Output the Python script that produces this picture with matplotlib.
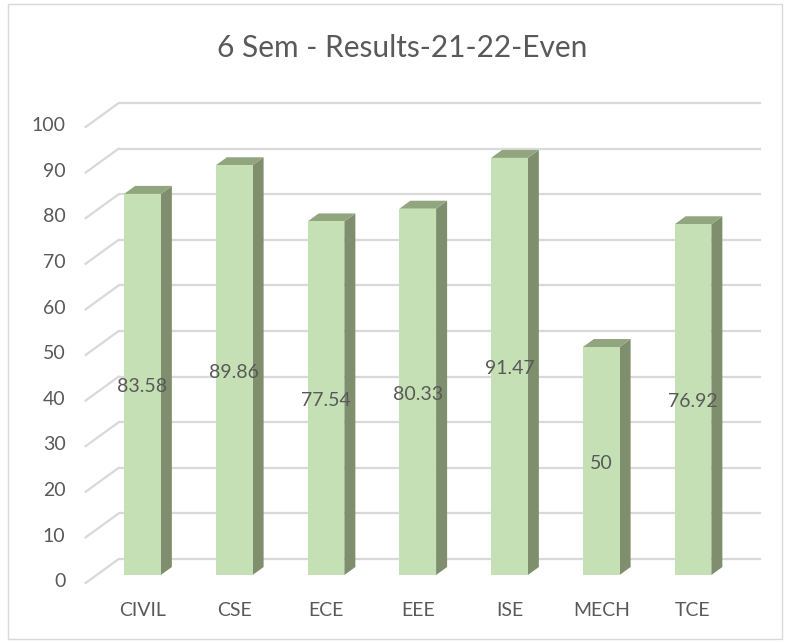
import matplotlib.pyplot as plt
from matplotlib.patches import Rectangle, Polygon

# data
categories = ['CIVIL', 'CSE', 'ECE', 'EEE', 'ISE', 'MECH', 'TCE']
results = [83.58, 89.86, 77.54, 80.33, 91.47, 50, 76.92]
label_text = ['83.58', '89.86', '77.54', '80.33', '91.47', '50', '76.92']
y_ticks = [0, 10, 20, 30, 40, 50, 60, 70, 80, 90, 100]
title = '6 Sem - Results-21-22-Even'

# style
front_col = '#C5E0B4'
side_col = '#7F8F6E'
top_col = '#91A57F'
grid_col = '#D9D9D9'
text_col = '#595959'
plt.rcParams['font.family'] = ['Lato', 'DejaVu Sans']

# pseudo-3d geometry (category units / value units)
half_w = 0.20
bar_dx, bar_dy = 0.12, 1.75      # bar depth
wall_dx, wall_dy = 0.24, 3.5     # back wall offset from bar front plane
floor_l, floor_r = -0.5, 6.5

W, H = 789, 642
fig = plt.figure(figsize=(W / 100, H / 100), dpi=100)
px_l, px_r, px_t, px_b = 20, 775, 85, 630
ax = fig.add_axes([px_l / W, 1 - px_b / H, (px_r - px_l) / W, (px_b - px_t) / H])
x0_px, xstep = 142.5, 91.75
y0_px, ystep = 575, 4.56
ax.set_xlim((px_l - x0_px) / xstep, (px_r - x0_px) / xstep)
ax.set_ylim((y0_px - px_b) / ystep, (y0_px - px_t) / ystep)
ax.axis('off')

# gridlines: back wall + left diagonals
for v in y_ticks:
    ax.plot([floor_l + wall_dx, floor_r + wall_dx], [v + wall_dy, v + wall_dy],
            color=grid_col, lw=1.6, zorder=1, solid_capstyle='butt')
    ax.plot([floor_l - bar_dx, floor_l + wall_dx], [v - bar_dy, v + wall_dy],
            color=grid_col, lw=1.6, zorder=1)
    ax.text(floor_l - bar_dx - 0.22, v - bar_dy + 0.3, str(v), ha='right', va='center',
            fontsize=14, color=text_col)

# bars
for i, (cat, val, lab) in enumerate(zip(categories, results, label_text)):
    x0, x1 = i - half_w, i + half_w
    ax.add_patch(Polygon([(x1, 0), (x1 + bar_dx, bar_dy), (x1 + bar_dx, val + bar_dy), (x1, val)],
                         closed=True, facecolor=side_col, edgecolor='none', zorder=2))
    ax.add_patch(Polygon([(x0, val), (x0 + bar_dx, val + bar_dy), (x1 + bar_dx, val + bar_dy), (x1, val)],
                         closed=True, facecolor=top_col, edgecolor='none', zorder=2))
    ax.add_patch(Rectangle((x0, 0), x1 - x0, val, facecolor=front_col, edgecolor='none', zorder=3))
    ax.text(i, val / 2 - 0.5, lab, ha='center', va='center', fontsize=14, color=text_col, zorder=4)
    ax.text(i, -7.7, cat, ha='center', va='center', fontsize=14, color=text_col)

fig.text(402.5 / W, 1 - 48 / H, title, ha='center', va='center', fontsize=21.5, color=text_col)
fig.patches.append(Rectangle((8 / W, 1 - 639 / H), 774 / W, 635 / H, transform=fig.transFigure,
                             fill=False, edgecolor=grid_col, lw=1))

plt.savefig('out.png', dpi=100)
